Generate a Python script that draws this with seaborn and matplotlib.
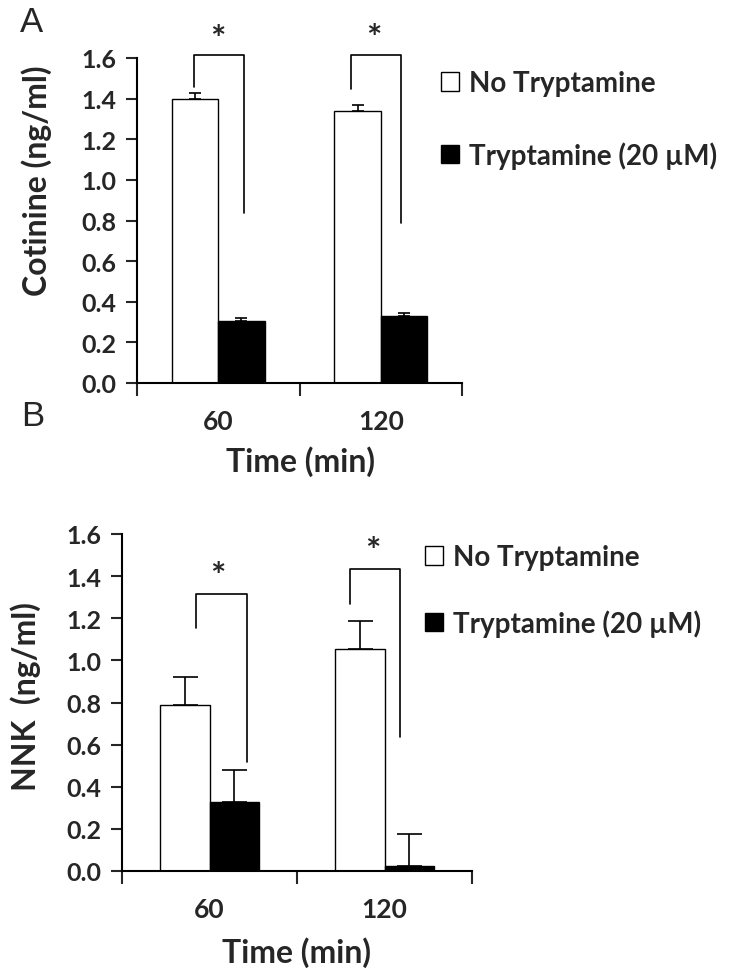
import matplotlib
matplotlib.use("Agg")
import matplotlib.pyplot as plt
from matplotlib.container import BarContainer
import seaborn as sns
import pandas as pd
import numpy as np

# ---------------- data ----------------
times = ["60", "120"]
conditions = ["No Tryptamine", "Tryptamine (20 µM)"]

cotinine_no = [1.40, 1.34]
cotinine_no_err = [0.03, 0.03]
cotinine_tr = [0.307, 0.331]
cotinine_tr_err = [0.015, 0.014]

nnk_no = [0.788, 1.054]
nnk_no_err = [0.132, 0.132]
nnk_tr = [0.329, 0.022]
nnk_tr_err = [0.152, 0.154]

# significance brackets: (left leg bottom, top, right leg bottom)
cot_brackets = [(1.457, 1.613, 0.837), (1.448, 1.613, 0.79)]
nnk_brackets = [(1.152, 1.313, 0.519), (1.268, 1.434, 0.634)]
cot_stars = [1.69, 1.695]
nnk_stars = [1.396, 1.515]

FONT = "Lato"
sns.set_theme(style="white")
plt.rcParams["font.family"] = [FONT, "DejaVu Sans"]
plt.rcParams["font.weight"] = "bold"

fig = plt.figure(figsize=(7.51, 9.78), dpi=100)
W, H = 751, 978


def px_axes(x0, x1, y_top, y_bot):
    return fig.add_axes([x0 / W, 1 - y_bot / H, (x1 - x0) / W, (y_bot - y_top) / H])


def make_panel(ax, no_vals, no_err, tr_vals, tr_err, brackets, stars,
               leg_offsets, star_offsets, capsize):
    df = pd.DataFrame({
        "Time": times * 2,
        "Condition": [conditions[0]] * 2 + [conditions[1]] * 2,
        "Value": no_vals + tr_vals,
    })
    sns.barplot(data=df, x="Time", y="Value", hue="Condition", order=times,
                hue_order=conditions, palette=["white", "black"],
                edgecolor="black", linewidth=1.0, width=0.57, ax=ax,
                errorbar=None, legend=True)
    errs = [no_err, tr_err]
    bar_conts = [c for c in ax.containers if isinstance(c, BarContainer)]
    for ci, cont in enumerate(bar_conts):
        for bi, patch in enumerate(cont.patches):
            xc = patch.get_x() + patch.get_width() / 2
            ax.errorbar(xc, patch.get_height(), yerr=[[0], [errs[ci][bi]]],
                        fmt="none", ecolor="black", elinewidth=1.2,
                        capsize=capsize, capthick=1.2, zorder=3)
    # brackets
    for gi, (lo_l, top, lo_r) in enumerate(brackets):
        xl = gi + leg_offsets[gi][0]
        xr = gi + leg_offsets[gi][1]
        ax.plot([xl, xl, xr, xr], [lo_l, top, top, lo_r], color="black",
                lw=1.2, clip_on=False, zorder=4)
        ax.text(gi + star_offsets[gi], stars[gi], "*", ha="center",
                va="center", fontsize=26, fontweight="bold", clip_on=False)

    ax.set_ylim(0, 1.6)
    ax.set_xlim(-0.5, 1.5)
    yt = np.arange(0, 1.61, 0.2)
    ax.set_yticks(yt)
    ax.set_yticklabels([f"{v:.1f}" for v in yt], fontsize=18, fontweight="bold")
    ax.set_xticks([-0.5, 0.5, 1.5])
    ax.set_xticklabels([])
    ax.set_xticks([0, 1], minor=True)
    ax.set_xticklabels(times, minor=True, fontsize=19, fontweight="bold")
    ax.tick_params(axis="x", which="major", direction="out", length=9,
                   width=1.5, bottom=True)
    ax.tick_params(axis="x", which="minor", length=0, pad=19)
    ax.tick_params(axis="y", direction="out", length=8, width=1.5, left=True,
                   pad=7)
    for s in ["top", "right"]:
        ax.spines[s].set_visible(False)
    for s in ["left", "bottom"]:
        ax.spines[s].set_linewidth(1.5)
        ax.spines[s].set_color("black")
    ax.set_xlabel("")
    ax.set_ylabel("")
    handles, labels = ax.get_legend_handles_labels()
    leg = ax.get_legend()
    if leg is not None:
        handles = leg.legend_handles
        labels = [t.get_text() for t in leg.get_texts()]
        leg.remove()
    return handles, labels


axA = px_axes(137, 462, 59, 384)
hA = make_panel(axA, cotinine_no, cotinine_no_err, cotinine_tr, cotinine_tr_err,
                cot_brackets, cot_stars,
                leg_offsets=[(-0.148, 0.16), (-0.185, 0.123)],
                star_offsets=[0.0, -0.043], capsize=4)

axB = px_axes(122, 472, 535, 872)
hB = make_panel(axB, nnk_no, nnk_no_err, nnk_tr, nnk_tr_err,
                nnk_brackets, nnk_stars,
                leg_offsets=[(-0.077, 0.214), (-0.197, 0.089)],
                star_offsets=[0.05, -0.066], capsize=9)

# axis labels
fig.text(37 / W, 1 - 181 / H, "Cotinine (ng/ml)", rotation=90, ha="center",
         va="center", fontsize=23, fontweight="bold")
fig.text(26 / W, 1 - 697 / H, "NNK  (ng/ml)", rotation=90, ha="center",
         va="center", fontsize=23, fontweight="bold")
fig.text(300 / W, 1 - 462 / H, "Time (min)", ha="center", va="center",
         fontsize=23, fontweight="bold")
fig.text(297 / W, 1 - 953 / H, "Time (min)", ha="center", va="center",
         fontsize=23, fontweight="bold")

# panel letters
fig.text(32 / W, 1 - 22 / H, "A", ha="center", va="center", fontsize=25,
         fontweight="normal", family=["Liberation Sans", "DejaVu Sans"])
fig.text(33 / W, 1 - 416 / H, "B", ha="center", va="center", fontsize=25,
         fontweight="normal", family=["Liberation Sans", "DejaVu Sans"])

# legends
for (handles, labels), (xa, ya), sp in [(hA, (441, 71), 1.63),
                                        (hB, (425, 545), 1.41)]:
    fig.legend(handles, labels, loc="upper left",
               bbox_to_anchor=(xa / W, 1 - ya / H), frameon=False,
               prop={"size": 20, "weight": "bold", "family": FONT},
               handlelength=0.65, handleheight=0.65, handletextpad=0.35,
               labelspacing=sp, borderaxespad=0, borderpad=0)

fig.savefig("out.png", dpi=100)
